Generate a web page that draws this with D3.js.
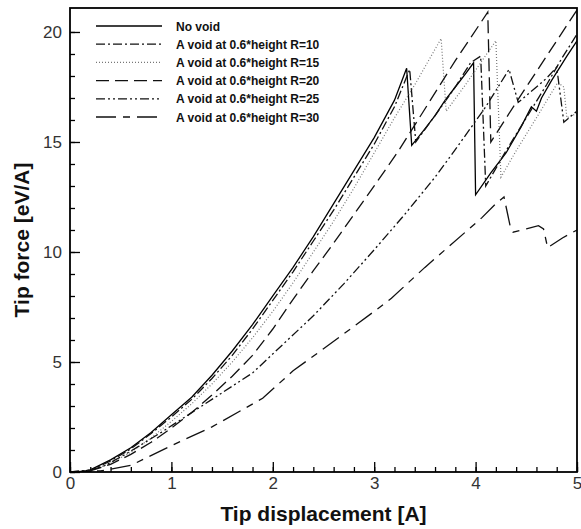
<!DOCTYPE html>
<html>
<head>
<meta charset="utf-8">
<script src="https://cdn.jsdelivr.net/npm/d3@7"></script>
<style>
  body { margin:0; background:#fff; }
  svg text { font-family: "Liberation Sans", Arial, sans-serif; }
</style>
</head>
<body>
<div id="chart" style="width:581px;height:529px"></div>
<script>
// series: [tip displacement A, tip force eV/A]
const seriesNames = [
  "No void",
  "A void at 0.6*height R=10",
  "A void at 0.6*height R=15",
  "A void at 0.6*height R=20",
  "A void at 0.6*height R=25",
  "A void at 0.6*height R=30"
];

const noVoid = [[0,0],[0.1,0.02],[0.2,0.1],[0.4,0.55],[0.6,1.1],[0.8,1.8],[1.0,2.6],[1.2,3.4],[1.4,4.4],[1.6,5.5],[1.8,6.7],[2.0,8.0],[2.2,9.3],[2.4,10.7],[2.6,12.2],[2.8,13.7],[3.0,15.2],[3.2,16.9],[3.32,18.35],[3.37,14.85],[3.5,15.6],[3.6,16.2],[3.7,16.9],[3.8,17.5],[3.9,18.1],[3.98,18.6],[4.0,12.6],[4.15,13.6],[4.3,14.5],[4.45,15.7],[4.55,16.6],[4.6,16.4],[4.65,17.0],[4.75,17.8],[4.9,18.9],[5.0,19.6]];
const voidR10 = [[0,0],[0.2,0.08],[0.4,0.5],[0.6,1.05],[0.8,1.75],[1.0,2.5],[1.2,3.3],[1.4,4.25],[1.6,5.3],[1.8,6.5],[2.0,7.8],[2.2,9.1],[2.4,10.5],[2.6,11.9],[2.8,13.4],[3.0,14.9],[3.2,16.6],[3.35,18.3],[3.41,15.0],[3.6,16.2],[3.8,17.5],[3.95,18.6],[4.05,18.9],[4.1,13.0],[4.3,14.6],[4.5,16.1],[4.7,17.6],[4.85,18.8],[5.0,19.9]];
const voidR15 = [[0,0],[0.2,0.05],[0.4,0.4],[0.6,0.9],[0.8,1.55],[1.0,2.3],[1.2,3.1],[1.4,4.0],[1.6,5.0],[1.8,6.1],[2.0,7.3],[2.2,8.6],[2.4,10.0],[2.6,11.4],[2.8,12.9],[3.0,14.5],[3.2,16.1],[3.4,17.6],[3.66,19.7],[3.71,16.4],[3.9,17.6],[4.05,18.6],[4.2,19.6],[4.25,13.4],[4.4,14.6],[4.6,16.1],[4.81,17.7],[4.87,17.5],[4.9,16.1],[5.0,16.3]];
const voidR20 = [[0,0],[0.2,0.05],[0.4,0.35],[0.6,0.8],[0.8,1.35],[1.0,2.0],[1.2,2.7],[1.4,3.5],[1.6,4.35],[1.8,5.3],[2.0,6.5],[2.2,7.85],[2.4,9.15],[2.6,10.4],[2.8,11.7],[3.0,13.0],[3.24,14.6],[3.5,16.5],[3.8,18.7],[4.12,20.9],[4.15,15.0],[4.4,16.8],[4.7,18.9],[5.0,21.0]];
const voidR25 = [[0,0],[0.2,0.08],[0.35,0.3],[0.6,0.95],[0.9,1.8],[1.2,2.7],[1.5,3.6],[1.8,4.5],[2.1,5.8],[2.4,7.1],[2.7,8.55],[3.0,10.1],[3.3,11.7],[3.6,13.4],[3.76,14.4],[3.9,15.3],[4.1,16.6],[4.33,18.3],[4.42,16.8],[4.6,17.5],[4.7,17.9],[4.8,18.4],[4.87,15.9],[5.0,16.4]];
const voidR30 = [[0,0],[0.3,0.05],[0.6,0.3],[1.0,1.2],[1.4,2.05],[1.9,3.35],[2.2,4.6],[2.5,5.6],[3.0,7.3],[3.17,7.9],[3.5,9.3],[4.06,11.55],[4.2,12.2],[4.28,12.5],[4.34,11.2],[4.37,10.9],[4.5,11.05],[4.62,11.2],[4.67,11.05],[4.71,10.2],[4.86,10.65],[5.0,11.0]];

const seriesValues = [noVoid, voidR10, voidR15, voidR20, voidR25, voidR30];

const xTicks = [0,1,2,3,4,5];
const yTicks = [0,5,10,15,20];

// line styles per series
const dashes = ["none", "9,3,2,3", "1,2", "13,6", "9,3,2,3,2,3", "20,7,7,7"];
const colors = ["#000", "#111", "#777", "#111", "#111", "#111"];

const width = 581, height = 529;
const margin = {t:8, r:4, b:57, l:70};
const w = width - margin.l - margin.r;
const h = height - margin.t - margin.b;

const svg = d3.select('#chart').append('svg')
  .attr('width', width)
  .attr('height', height);

const plot = svg.append('g')
  .attr('transform', `translate(${margin.l},${margin.t})`);

const scaleX = d3.scaleLinear().domain([0,5]).range([0,w]);
const scaleY = d3.scaleLinear().domain([0,21.09]).range([h,0]);

// minor ticks first, then major ticks with labels
const axisXMinor = d3.axisBottom(scaleX).tickValues(d3.range(0,5.01,0.2)).tickSize(-5).tickFormat('');
const axisYMinor = d3.axisLeft(scaleY).tickValues(d3.range(0,21,1)).tickSize(-5).tickFormat('');
const axisX = d3.axisBottom(scaleX).tickValues(xTicks).tickSize(-10).tickPadding(5).tickFormat(d3.format('d'));
const axisY = d3.axisLeft(scaleY).tickValues(yTicks).tickSize(-10).tickPadding(8).tickFormat(d3.format('d'));

[axisXMinor, axisX].forEach(ax => {
  plot.append('g').attr('class','axis-x')
    .attr('transform', `translate(0,${h})`)
    .call(ax);
});
[axisYMinor, axisY].forEach(ax => {
  plot.append('g').attr('class','axis-y').call(ax);
});

plot.selectAll('.domain').remove();
plot.selectAll('.tick line').style('stroke','#000').style('stroke-width',1.3);
plot.selectAll('.tick text')
  .style('font-size','17px')
  .style('fill','#333');

// lines
const line = d3.line()
  .x(d => scaleX(d[0]))
  .y(d => scaleY(d[1]));

plot.append('defs').append('clipPath').attr('id','clip')
  .append('rect').attr('width', w).attr('height', h);

plot.append('g').attr('clip-path','url(#clip)')
  .selectAll('.series')
  .data(seriesValues)
  .enter().append('path')
  .attr('class','series')
  .attr('d', line)
  .style('fill','none')
  .style('stroke', (d,i) => colors[i])
  .style('stroke-width', (d,i) => i === 2 ? 1.2 : 1.3)
  .style('stroke-dasharray', (d,i) => dashes[i]);

// frame
plot.append('rect')
  .attr('width', w).attr('height', h)
  .style('fill','none')
  .style('stroke','#000')
  .style('stroke-width',1.8);

// legend
const legend = plot.append('g')
  .attr('transform','translate(26,18)');

const rows = legend.selectAll('.row')
  .data(seriesNames)
  .enter().append('g')
  .attr('class','row')
  .attr('transform', (d,i) => `translate(0,${i*18.2})`);

rows.append('line')
  .attr('x1',0).attr('x2',66)
  .style('stroke', (d,i) => colors[i])
  .style('stroke-width',1.3)
  .style('stroke-dasharray', (d,i) => dashes[i]);

rows.append('text')
  .attr('x',80).attr('y',4.5)
  .text(d => d)
  .style('font-size','12px')
  .style('font-weight','bold')
  .style('fill','#111');

// axis titles
svg.append('text')
  .attr('x', margin.l + w/2)
  .attr('y', 521)
  .attr('text-anchor','middle')
  .text('Tip displacement [A]')
  .style('font-size','21px')
  .style('font-weight','bold')
  .style('fill','#111');

svg.append('text')
  .attr('transform', `translate(29,${margin.t + h/2}) rotate(-90)`)
  .attr('text-anchor','middle')
  .text('Tip force [eV/A]')
  .style('font-size','21px')
  .style('font-weight','bold')
  .style('fill','#111');
</script>
</body>
</html>
